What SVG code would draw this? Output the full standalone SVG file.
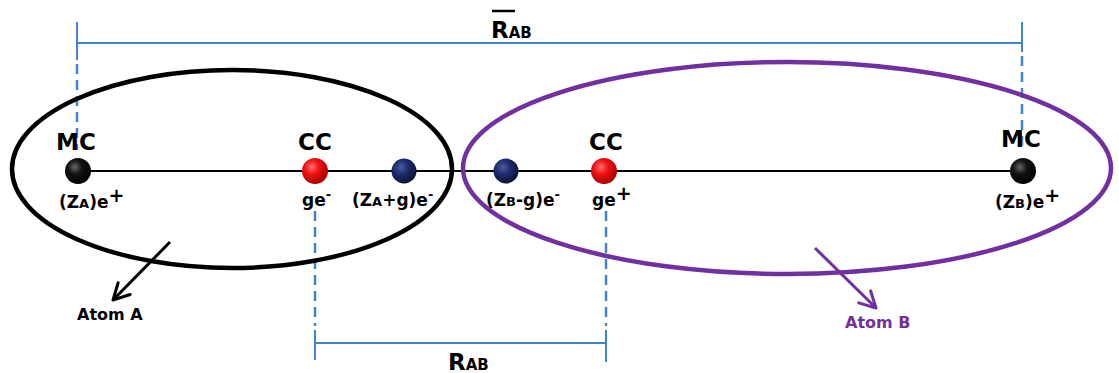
<svg xmlns="http://www.w3.org/2000/svg" width="1119" height="373" viewBox="0 0 1119 373">
<style>
.lbl{font-family:"DejaVu Sans",sans-serif;font-weight:bold;fill:#000}
.big{font-size:23px}
.mid{font-size:17px}
.sm{font-size:16px}
.dim{stroke:#4283cc;stroke-width:2;fill:none}
.dash{stroke:#4283cc;stroke-width:2.5;stroke-dasharray:10,6;fill:none}
.axis{stroke:#000;stroke-width:2}
</style>
<defs>
<radialGradient id="gBlack" cx="0.38" cy="0.35" r="0.7"><stop offset="0" stop-color="#666"/><stop offset="0.4" stop-color="#111"/><stop offset="1" stop-color="#000"/></radialGradient>
<radialGradient id="gRed" cx="0.38" cy="0.35" r="0.7"><stop offset="0" stop-color="#ff7070"/><stop offset="0.4" stop-color="#ee1111"/><stop offset="1" stop-color="#a00000"/></radialGradient>
<radialGradient id="gBlue" cx="0.38" cy="0.35" r="0.7"><stop offset="0" stop-color="#4a5aa0"/><stop offset="0.45" stop-color="#1a2a6a"/><stop offset="1" stop-color="#0a1030"/></radialGradient>
<marker id="arrA" viewBox="0 0 12 12" refX="10" refY="6" markerWidth="7.5" markerHeight="7.5" orient="auto" markerUnits="strokeWidth"><path d="M1.5,1.5 L10,6 L1.5,10.5" fill="none" stroke="#000" stroke-width="1.6" stroke-linecap="round" stroke-linejoin="round"/></marker>
<marker id="arrB" viewBox="0 0 12 12" refX="10" refY="6" markerWidth="7.5" markerHeight="7.5" orient="auto" markerUnits="strokeWidth"><path d="M1.5,1.5 L10,6 L1.5,10.5" fill="none" stroke="#7030a0" stroke-width="1.6" stroke-linecap="round" stroke-linejoin="round"/></marker>
</defs>
<rect width="1119" height="373" fill="#fff"/>
<g id="connectors">
<line class="dim" x1="77" y1="43" x2="1022" y2="43"/>
<line class="dim" x1="77" y1="22" x2="77" y2="60"/>
<line class="dash" x1="77" y1="64" x2="77" y2="150"/>
<line class="dim" x1="1022" y1="22" x2="1022" y2="52"/>
<line class="dash" x1="1022" y1="56" x2="1022" y2="152"/>
<line class="dash" x1="315" y1="211" x2="315" y2="326"/>
<line class="dim" x1="315" y1="330" x2="315" y2="360"/>
<line class="dash" x1="606" y1="211" x2="606" y2="326"/>
<line class="dim" x1="606" y1="330" x2="606" y2="362"/>
<line class="dim" x1="315" y1="343" x2="606" y2="343"/>
<line class="axis" x1="77" y1="171" x2="1022" y2="171"/>
<line x1="170" y1="242" x2="113" y2="300" stroke="#000" stroke-width="3" marker-end="url(#arrA)"/>
<line x1="815" y1="248" x2="876" y2="308" stroke="#7030a0" stroke-width="3" marker-end="url(#arrB)"/>
</g>
<g id="atomA">
<ellipse cx="232" cy="169" rx="220" ry="99" fill="none" stroke="#000" stroke-width="4.5"/>
<text class="lbl sm" x="77" y="320">Atom A</text>
</g>
<g id="atomB">
<ellipse cx="787" cy="168" rx="324" ry="106" fill="none" stroke="#7030a0" stroke-width="4.5"/>
<text class="lbl sm" x="845" y="328" style="fill:#7030a0">Atom B</text>
</g>
<g id="mcA">
<circle cx="78" cy="171" r="13" fill="url(#gBlack)"/>
<text class="lbl big" x="76" y="150" text-anchor="middle">MC</text>
<text class="lbl mid" x="59" y="208">(Z<tspan font-size="13">A</tspan>)e<tspan font-size="19" dy="-6">+</tspan></text>
</g>
<g id="ccA">
<circle cx="315" cy="171" r="13" fill="url(#gRed)"/>
<text class="lbl big" x="315" y="150" text-anchor="middle">CC</text>
<text class="lbl mid" x="302" y="206">ge<tspan font-size="13" dy="-7">-</tspan></text>
</g>
<g id="eA">
<circle cx="404" cy="171" r="12.5" fill="url(#gBlue)"/>
<text class="lbl mid" x="352" y="206">(Z<tspan font-size="13">A</tspan>+g)e<tspan font-size="13" dy="-7">-</tspan></text>
</g>
<g id="eB">
<circle cx="506" cy="171" r="12.5" fill="url(#gBlue)"/>
<text class="lbl mid" x="486" y="206">(Z<tspan font-size="13">B</tspan>-g)e<tspan font-size="13" dy="-7">-</tspan></text>
</g>
<g id="ccB">
<circle cx="604" cy="171" r="13" fill="url(#gRed)"/>
<text class="lbl big" x="606" y="150" text-anchor="middle">CC</text>
<text class="lbl mid" x="592" y="206">ge<tspan font-size="19" dy="-6">+</tspan></text>
</g>
<g id="mcB">
<circle cx="1023" cy="171" r="13" fill="url(#gBlack)"/>
<text class="lbl big" x="1021" y="147" text-anchor="middle">MC</text>
<text class="lbl mid" x="995" y="208">(Z<tspan font-size="13">B</tspan>)e<tspan font-size="19" dy="-6">+</tspan></text>
</g>
<g id="rabTop">
<line x1="492" y1="11" x2="515" y2="11" stroke="#000" stroke-width="2.5"/>
<text class="lbl big" x="491" y="38">R<tspan font-size="15">AB</tspan></text>
</g>
<g id="rabBottom">
<text class="lbl big" x="448" y="370">R<tspan font-size="15">AB</tspan></text>
</g>
</svg>
